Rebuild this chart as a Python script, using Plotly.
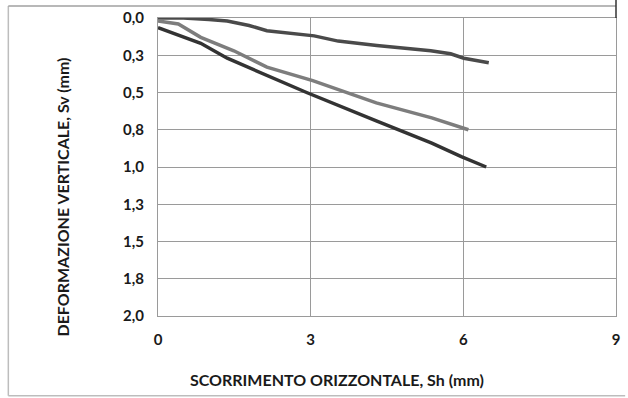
import plotly.graph_objects as go

# Data (Sh in mm, Sv in mm)
sh_top = [0.0, 0.5, 1.0, 1.36, 1.79, 2.14, 3.07, 3.54, 4.3, 5.36, 5.75, 6.01, 6.5]
sv_top = [0.0, 0.0, 0.01, 0.02, 0.05, 0.085, 0.12, 0.155, 0.185, 0.22, 0.24, 0.27, 0.30]

sh_mid = [0.0, 0.4, 0.84, 1.49, 2.14, 3.04, 4.29, 5.38, 6.1]
sv_mid = [0.02, 0.04, 0.13, 0.22, 0.33, 0.42, 0.57, 0.67, 0.75]

sh_bot = [0.0, 0.84, 1.36, 2.14, 2.92, 4.29, 5.38, 5.96, 6.45]
sv_bot = [0.065, 0.17, 0.27, 0.385, 0.50, 0.69, 0.84, 0.93, 1.0]

y_tickvals = [0, 0.25, 0.5, 0.75, 1.0, 1.25, 1.5, 1.75, 2.0]
y_ticktext = ["0,0", "0,3", "0,5", "0,8", "1,0", "1,3", "1,5", "1,8", "2,0"]
x_tickvals = [0, 3, 6, 9]
x_ticktext = ["0", "3", "6", "9"]

FONT = "Lato"

fig = go.Figure()
fig.add_trace(go.Scatter(x=sh_top, y=sv_top, mode="lines",
                         line=dict(color="#4a4a4a", width=3.5), showlegend=False))
fig.add_trace(go.Scatter(x=sh_mid, y=sv_mid, mode="lines",
                         line=dict(color="#7d7d7d", width=3.5), showlegend=False))
fig.add_trace(go.Scatter(x=sh_bot, y=sv_bot, mode="lines",
                         line=dict(color="#333333", width=3.5), showlegend=False))

fig.update_layout(
    width=628, height=398,
    margin=dict(l=158, r=8, t=17, b=82),
    paper_bgcolor="white", plot_bgcolor="white",
    font=dict(family=FONT, color="#1a1a1a"),
    xaxis=dict(range=[0, 9], tickvals=x_tickvals, ticktext=x_ticktext,
               showgrid=True, gridcolor="#9a9a9a", gridwidth=1,
               zeroline=False, showline=True, linecolor="#9a9a9a", mirror=True,
               ticks="", ticklabelstandoff=10,
               tickfont=dict(family=FONT, size=15, color="#1a1a1a", weight="bold")),
    yaxis=dict(range=[2, 0], tickvals=y_tickvals, ticktext=y_ticktext,
               showgrid=True, gridcolor="#9a9a9a", gridwidth=1,
               zeroline=False, showline=True, linecolor="#9a9a9a", mirror=True,
               ticks="", ticklabelstandoff=10,
               tickfont=dict(family=FONT, size=15, color="#1a1a1a", weight="bold")),
    annotations=[
        dict(text="SCORRIMENTO ORIZZONTALE, Sh (mm)", xref="paper", yref="paper",
             x=0.39, y=-0.214, showarrow=False, xanchor="center", yanchor="middle",
             font=dict(family=FONT, size=16, color="#1a1a1a", weight="bold")),
        dict(text="DEFORMAZIONE VERTICALE, Sv (mm)", xref="paper", yref="paper",
             x=-0.208, y=0.40, showarrow=False, textangle=-90,
             xanchor="center", yanchor="middle",
             font=dict(family=FONT, size=16, color="#1a1a1a", weight="bold")),
    ],
    shapes=[
        dict(type="line", xref="paper", yref="paper", x0=-0.3268, x1=-0.3268,
             y0=-0.2676, y1=1.04, line=dict(color="#bdbdbd", width=1.5)),
        dict(type="line", xref="paper", yref="paper", x0=-0.3268, x1=1.0,
             y0=1.04, y1=1.04, line=dict(color="#a0a0a0", width=1.5)),
        dict(type="line", xref="paper", yref="paper", x0=-0.3268, x1=1.02,
             y0=-0.2676, y1=-0.2676, line=dict(color="#bdbdbd", width=1.5)),
        dict(type="line", xref="paper", yref="paper", x0=1.0, x1=1.0,
             y0=1.0, y1=1.06, line=dict(color="#333333", width=1.5)),
    ],
)

fig.write_html("out.html")
